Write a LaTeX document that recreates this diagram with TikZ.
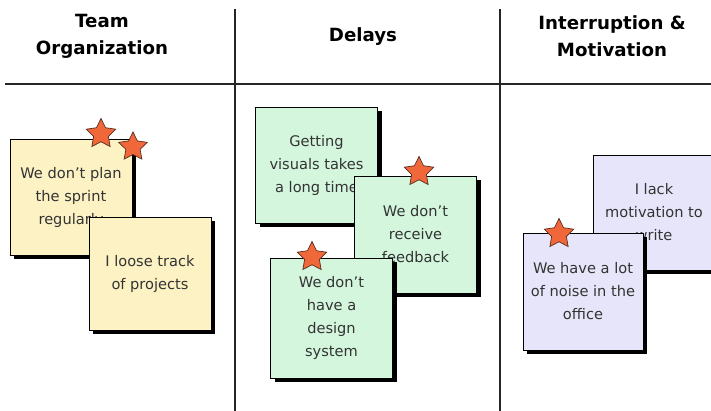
\documentclass[tikz,border=0pt]{standalone}
\usepackage{fontspec}
\setmainfont{DejaVu Sans}
\usetikzlibrary{shapes.geometric,shadows,positioning}

\definecolor{noteyellow}{HTML}{FCF2C4}
\definecolor{notegreen}{HTML}{D3F6DD}
\definecolor{notepurple}{HTML}{E7E5F9}
\definecolor{starorange}{HTML}{F0683A}
\definecolor{staredge}{HTML}{5A2E22}

\begin{document}
\begin{tikzpicture}
[x=1pt, y=-1pt, black, thick,
header/.style = {font=\fontsize{18.2}{27}\selectfont\bfseries, align=center, inner sep=0pt},
rule/.style = {line width=1.8pt, black!85},
sticky/.style = {rectangle, draw=black, line width=0.9pt, minimum width=122pt, minimum height=116pt,
                 align=center, inner sep=0pt, text=black!80, font=\fontsize{14.6}{23}\selectfont,
                 drop shadow={shadow xshift=4pt, shadow yshift=-4pt, fill=black, opacity=1}},
yellow note/.style = {sticky, fill=noteyellow},
green note/.style = {sticky, fill=notegreen},
purple note/.style = {sticky, fill=notepurple},
vote/.style = {star, star points=5, star point ratio=2.0, minimum size=31pt, inner sep=0pt,
               fill=starorange, draw=staredge, line width=0.7pt}]
\useasboundingbox (0,0) rectangle (711,411);
\clip (0,0) rectangle (711,411);

% column heads and rules
\node[header] (head1) at (102,36) {Team\\Organization};
\node[header] (head2) at (363,37) {Delays};
\node[header] (head3) at (612,36) {Interruption \&\\Motivation};
\draw[rule] (5,84) -- (711,84);
\draw[rule] (235,9) -- (235,411);
\draw[rule] (500,9) -- (500,411);

% team organization
\node[yellow note] (plan) at (71,197) {We don't plan\\the sprint\\regularly};
\node[vote] (plan star a) at (101,134) {};
\node[vote, minimum size=30pt] (plan star b) at (133,147) {};
\node[yellow note, minimum height=113pt] (track) at (150,273.5) {I loose track\\of projects};

% delays
\node[green note] (visuals) at (316.5,165) {Getting\\visuals takes\\a long time};
\node[green note, minimum height=117pt] (feedback) at (415.5,234.5) {We don't\\receive\\feedback};
\node[vote] (feedback star) at (419,172) {};
\node[green note, minimum height=120pt] (design) at (331.5,318) {We don't\\have a\\design\\system};
\node[vote] (design star) at (312,257) {};

% interruption and motivation
\node[purple note, minimum height=115pt] (lack) at (654,212.5) {I lack\\motivation to\\write};
\node[purple note, minimum width=120pt, minimum height=117pt] (noise) at (583,291.5) {We have a lot\\of noise in the\\office};
\node[vote] (noise star) at (559,234) {};
\end{tikzpicture}
\end{document}
